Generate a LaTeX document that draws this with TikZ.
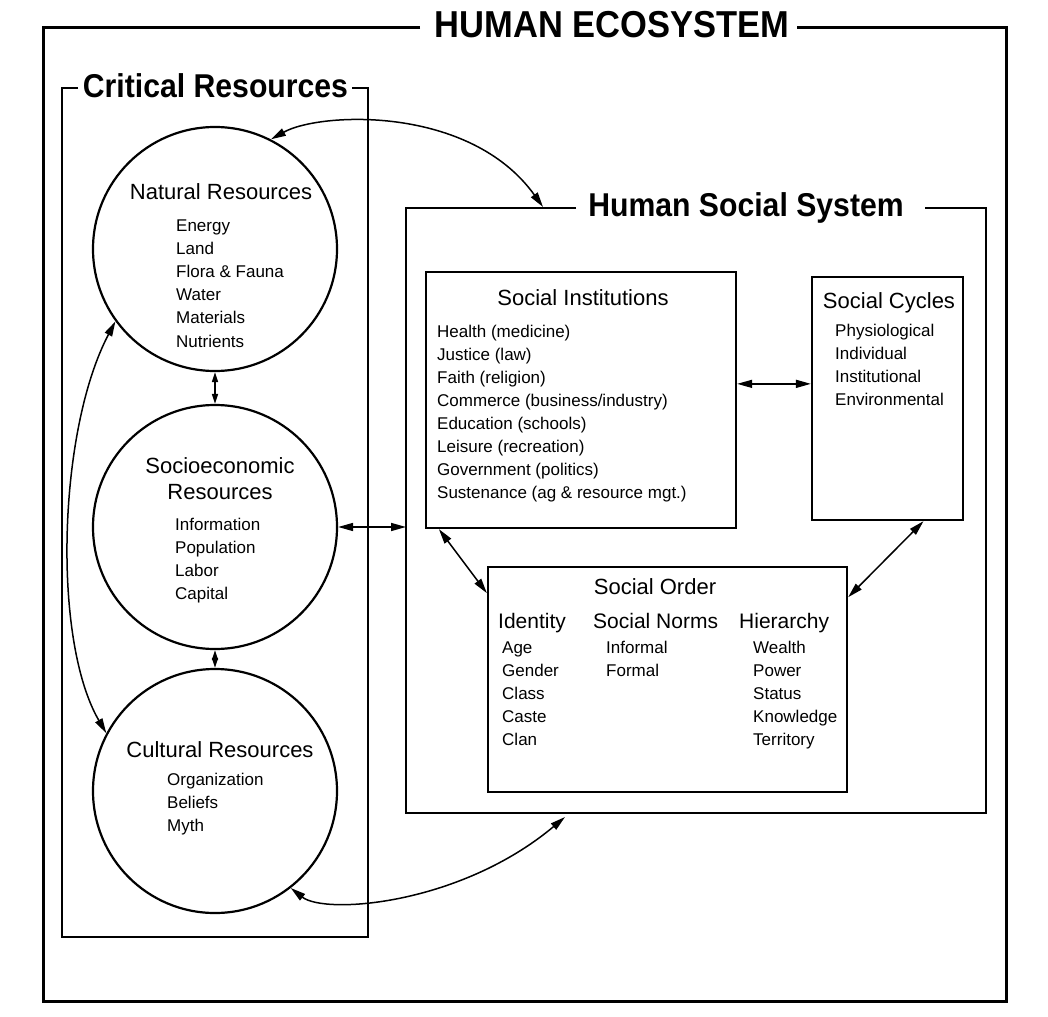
\documentclass[tikz,border=0pt]{standalone}
\usepackage{fontspec}
\setmainfont{Liberation Sans}
\usetikzlibrary{arrows.meta,calc}
\begin{document}
\begin{tikzpicture}[x=1pt,y=-1pt,
  frameA/.style={line width=3pt,line join=miter},
  frameB/.style={line width=2.6pt,line join=miter},
  area/.style={rectangle,inner sep=0pt,outer sep=0pt,draw=none},
  box/.style={draw,rectangle,line width=2.3pt,inner sep=0pt},
  circ/.style={draw,circle,line width=2.2pt,minimum size=244pt,inner sep=0pt},
  dbl/.style={line width=1.5pt,{Triangle[length=15pt,width=8pt]}-{Triangle[length=15pt,width=8pt]}},
  dbls/.style={line width=1.5pt,{Triangle[length=10pt,width=6pt]}-{Triangle[length=10pt,width=6pt]}},
  item/.style={anchor=base west,inner sep=0pt,font=\fontsize{17}{20}\selectfont},
  head/.style={anchor=base,inner sep=0pt,font=\fontsize{22}{26}\selectfont},
  sub/.style={anchor=base west,inner sep=0pt,font=\fontsize{21}{24}\selectfont},
  big/.style={anchor=base,inner sep=0pt,font=\fontsize{33}{38}\selectfont\bfseries},
  huge/.style={anchor=base,inner sep=0pt,font=\fontsize{37.5}{42}\selectfont\bfseries},
]
\useasboundingbox (0,0) rectangle (1048,1016);

% frames
\node[area,minimum width=963pt,minimum height=973pt] (eco) at (524.5,514.5) {};
\draw[frameA] ($(eco.north west)+(377,0)$) -- (eco.north west) -- (eco.south west) -- (eco.south east) -- (eco.north east) -- ($(eco.north east)+(-209,0)$);
\node[huge] (ecot) at (612,38) {\scalebox{0.92}[1]{HUMAN ECOSYSTEM}};

\node[area,minimum width=306pt,minimum height=849pt] (crit) at (215,512.5) {};
\draw[frameB] ($(crit.north west)+(16,0)$) -- (crit.north west) -- (crit.south west) -- (crit.south east) -- (crit.north east) -- ($(crit.north east)+(-16,0)$);
\node[big] (critt) at (215.5,98) {\scalebox{0.915}[1]{Critical Resources}};

\node[area,minimum width=580pt,minimum height=605pt] (hss) at (696,510.5) {};
\draw[frameB] ($(hss.north west)+(170,0)$) -- (hss.north west) -- (hss.south west) -- (hss.south east) -- (hss.north east) -- ($(hss.north east)+(-61,0)$);
\node[big] (hsst) at (746,217) {\scalebox{0.915}[1]{Human Social System}};

% circles
\node[circ] (nat) at (215,249) {};
\node[circ] (soc) at (215,527) {};
\node[circ] (cul) at (215,791) {};

\node[head] (natt) at (221,200) {Natural Resources};
\foreach \t [count=\i] in {Energy,Land,Flora \& Fauna,Water,Materials,Nutrients}
  \node[item] (nat\i) at (176,{231.5+23.1*(\i-1)}) {\t};

\node[head] (soct1) at (220,473) {Socioeconomic};
\node[head] (soct2) at (220,499) {Resources};
\foreach \t [count=\i] in {Information,Population,Labor,Capital}
  \node[item] (soc\i) at (175,{530+23*(\i-1)}) {\t};

\node[head] (cult) at (220,757) {Cultural Resources};
\foreach \t [count=\i] in {Organization,Beliefs,Myth}
  \node[item] (cul\i) at (167,{785+23*(\i-1)}) {\t};

% boxes
\node[box,minimum width=310pt,minimum height=256pt] (si) at (581,400) {};
\node[head] (sit) at (583,305) {Social Institutions};
\foreach \t [count=\i] in {Health (medicine),Justice (law),Faith (religion),Commerce (business/industry),Education (schools),Leisure (recreation),Government (politics),Sustenance (ag \& resource mgt.)}
  \node[item] (si\i) at (437,{337+23*(\i-1)}) {\t};

\node[box,minimum width=151pt,minimum height=243pt] (sc) at (887.5,398.5) {};
\node[head] (sct) at (889,308) {Social Cycles};
\foreach \t [count=\i] in {Physiological,Individual,Institutional,Environmental}
  \node[item] (sc\i) at (835,{336+23*(\i-1)}) {\t};

\node[box,minimum width=359pt,minimum height=225pt] (so) at (667.5,679.5) {};
\node[head] (sot) at (655,594) {Social Order};
\node[sub] (idt) at (498,628) {Identity};
\node[sub] (snt) at (593,628) {Social Norms};
\node[sub] (hit) at (739,628) {Hierarchy};
\foreach \t [count=\i] in {Age,Gender,Class,Caste,Clan}
  \node[item] (id\i) at (502,{653+23*(\i-1)}) {\t};
\foreach \t [count=\i] in {Informal,Formal}
  \node[item] (sn\i) at (606,{653+23*(\i-1)}) {\t};
\foreach \t [count=\i] in {Wealth,Power,Status,Knowledge,Territory}
  \node[item] (hi\i) at (753,{653+23*(\i-1)}) {\t};

% connection points
\coordinate (hsstop) at ($(hss.north west)+(137,-1)$);
\coordinate (hssbot) at ($(hss.south west)+(159,4)$);
\coordinate (sie) at ($(si.north east)!0.4375!(si.south east)$);
\coordinate (sis) at ($(si.south west)!0.045!(si.south east)$);
\coordinate (sow) at ($(so.north west)!0.12!(so.south west)$);
\coordinate (scs) at ($(sc.south west)!0.735!(sc.south east)$);
\coordinate (soe) at ($(so.north east)!0.138!(so.south east)$);

% arrows
\draw[dbls] (nat.south) -- (soc.north);
\draw[dbls] (soc.south) -- (cul.north);
\draw[dbl] (soc.east) -- (soc.east -| hss.west);
\draw[dbl] (sie) -- (sie -| sc.west);
\draw[dbl] (sis) -- (sow);
\draw[dbl] (scs) -- (soe);
\draw[dbl] (nat.63) .. controls (320,112) and (470,105) .. (hsstop);
\draw[dbl] (cul.-52) .. controls (325,915) and (460,905) .. (hssbot);
\draw[dbl] (nat.216) .. controls (58,430) and (52,640) .. (cul.152);
\end{tikzpicture}
\end{document}
